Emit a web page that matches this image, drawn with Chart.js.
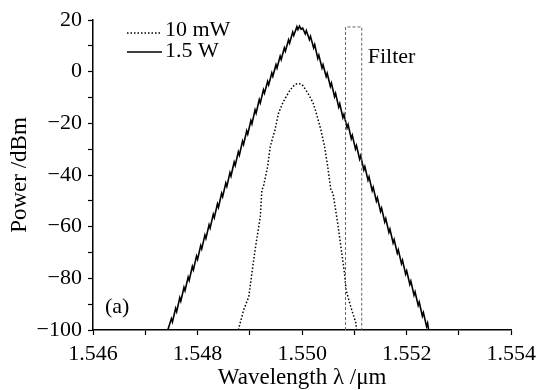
<!DOCTYPE html>
<html>
<head>
<meta charset="utf-8">
<script src="https://cdn.jsdelivr.net/npm/chart.js@4.4.1/dist/chart.umd.min.js"></script>
<style>
html, body { margin: 0; padding: 0; background: #fff; }
</style>
</head>
<body>
<canvas id="spectrum" width="542" height="390"></canvas>
<script>
// Axis setup
const xMin = 1.546, xMax = 1.554, xStep = 0.001;
const yMin = -100, yMax = 20, yStep = 10;

// 10 mW seed spectrum (dotted)
const lowX = [1.54878, 1.54888, 1.54898, 1.54904, 1.54910, 1.54920, 1.54923, 1.54926, 1.54934, 1.54939,
    1.54948, 1.54955, 1.54964, 1.54977, 1.54986, 1.54992, 1.55000, 1.55011, 1.55021, 1.55027,
    1.55036, 1.55043, 1.55049, 1.55055, 1.55059, 1.55068, 1.55075, 1.55081, 1.55084, 1.55093,
    1.55103, 1.55104];
const lowY = [-100, -92.3, -87.1, -77.9, -69.0, -56.1, -45.8, -44.5, -36.8, -29.0,
    -22.6, -16.0, -11.6, -7.1, -5.0, -4.5, -5.0, -8.3, -12.1, -16.0,
    -22.6, -29.0, -36.8, -45.8, -47.0, -58.6, -69.0, -77.9, -84.5, -91.0,
    -97.4, -100];

// 1.5 W amplified spectrum (solid, with its small ripple)
const highX = [1.54743,
    1.54750, 1.54752, 1.54758, 1.54760, 1.54766, 1.54768, 1.54774, 1.54776, 1.54782, 1.54784,
    1.54790, 1.54792, 1.54798, 1.54800, 1.54806, 1.54808, 1.54814, 1.54816, 1.54822, 1.54824,
    1.54830, 1.54832, 1.54838, 1.54840, 1.54846, 1.54848, 1.54854, 1.54856, 1.54862, 1.54864,
    1.54870, 1.54872, 1.54878, 1.54880, 1.54886, 1.54888, 1.54894, 1.54896, 1.54902, 1.54904,
    1.54910, 1.54912, 1.54918, 1.54920, 1.54926, 1.54928, 1.54934, 1.54936, 1.54942, 1.54944,
    1.54950, 1.54952, 1.54958, 1.54960, 1.54966, 1.54968, 1.54974, 1.54976, 1.54982, 1.54984,
    1.54990, 1.54992, 1.54995, 1.54998, 1.55001,
    1.55006, 1.55008, 1.55014, 1.55016, 1.55022, 1.55024, 1.55030, 1.55032, 1.55038, 1.55040,
    1.55046, 1.55048, 1.55054, 1.55056, 1.55062, 1.55064, 1.55070, 1.55072, 1.55078, 1.55080,
    1.55086, 1.55088, 1.55094, 1.55096, 1.55102, 1.55104, 1.55110, 1.55112, 1.55118, 1.55120,
    1.55126, 1.55128, 1.55134, 1.55136, 1.55142, 1.55144, 1.55150, 1.55152, 1.55158, 1.55160,
    1.55166, 1.55168, 1.55174, 1.55176, 1.55182, 1.55184, 1.55190, 1.55192, 1.55198, 1.55200,
    1.55206, 1.55208, 1.55214, 1.55216, 1.55222, 1.55224, 1.55230, 1.55232, 1.55238, 1.55240,
    1.55242];
const highY = [-100,
    -95.6, -96.9, -91.6, -92.9, -87.5, -88.8, -83.5, -84.8, -79.5, -80.8,
    -75.4, -76.7, -71.4, -72.7, -67.3, -68.6, -63.3, -64.6, -59.3, -60.6,
    -55.2, -56.5, -51.2, -52.5, -47.1, -48.4, -43.1, -44.4, -39.1, -40.4,
    -35.0, -36.3, -31.0, -32.3, -26.9, -28.2, -22.9, -24.2, -18.9, -20.2,
    -14.8, -16.1, -10.8, -12.1, -7.0, -8.3, -3.8, -5.1, -0.5, -1.8,
    2.7, 1.4, 6.0, 4.7, 9.2, 7.9, 12.3, 11.0, 15.3, 14.0,
    17.4, 16.3, 17.6, 16.4, 16.9,
    14.6, 15.9, 12.4, 13.7, 9.2, 10.5, 5.1, 6.4, 1.4, 2.7,
    -1.9, -0.6, -5.7, -4.4, -9.7, -8.4, -13.7, -12.4, -17.8, -16.5,
    -21.8, -20.5, -25.9, -24.6, -29.9, -28.6, -33.9, -32.6, -38.0, -36.7,
    -42.0, -40.7, -46.1, -44.8, -50.1, -48.8, -54.1, -52.8, -58.2, -56.9,
    -62.2, -60.9, -66.3, -65.0, -70.3, -69.0, -74.3, -73.0, -78.4, -77.1,
    -82.4, -81.1, -86.5, -85.2, -90.5, -89.2, -94.6, -93.3, -98.6, -97.3,
    -100];

// Filter pass band outline
const filterX = [1.55083, 1.55083, 1.55114, 1.55114];
const filterY = [-100, 17.3, 17.3, -100];

const legendLabels = ['10 mW', '1.5 W'];

const serif = '"Liberation Serif", "Times New Roman", serif';
Chart.defaults.font.family = serif;
Chart.defaults.color = '#000';

function toPoints(xs, ys) {
    return xs.map((x, i) => ({ x: x, y: ys[i] }));
}

// Legend, panel label and filter label drawn on top of the plot
const notesPlugin = {
    id: 'notes',
    afterDatasetsDraw(chart) {
        const ctx = chart.ctx;
        const sx = chart.scales.x, sy = chart.scales.y;
        ctx.save();
        ctx.font = '22px ' + serif;
        ctx.fillStyle = '#000';
        ctx.textBaseline = 'middle';
        ctx.textAlign = 'left';

        ctx.strokeStyle = '#000';
        ctx.lineWidth = 1.4;
        ctx.setLineDash([1.5, 2]);
        ctx.beginPath();
        ctx.moveTo(127, 33);
        ctx.lineTo(161, 33);
        ctx.stroke();
        ctx.setLineDash([]);
        ctx.lineWidth = 1.6;
        ctx.beginPath();
        ctx.moveTo(127, 52);
        ctx.lineTo(162, 52);
        ctx.stroke();
        ctx.fillText(legendLabels[0], 165, 30);
        ctx.fillText(legendLabels[1], 165, 51);

        ctx.fillText('(a)', 105, 307);
        ctx.fillText('Filter', sx.getPixelForValue(1.55114) + 6, sy.getPixelForValue(5.5));
        ctx.restore();
    }
};

const ctx = document.getElementById('spectrum').getContext('2d');
const spectrumChart = new Chart(ctx, {
    type: 'scatter',
    data: {
        datasets: [
            {
                label: 'Filter',
                data: toPoints(filterX, filterY),
                showLine: true,
                borderColor: '#666',
                borderWidth: 1,
                borderDash: [3, 2],
                pointRadius: 0,
                tension: 0
            },
            {
                label: legendLabels[0],
                data: toPoints(lowX, lowY),
                showLine: true,
                borderColor: '#000',
                borderWidth: 1.5,
                borderDash: [1.5, 2],
                pointRadius: 0,
                tension: 0
            },
            {
                label: legendLabels[1],
                data: toPoints(highX, highY),
                showLine: true,
                borderColor: '#000',
                borderWidth: 1.6,
                pointRadius: 0,
                tension: 0
            }
        ]
    },
    options: {
        responsive: false,
        animation: false,
        devicePixelRatio: 1,
        layout: { padding: { left: 0, top: 20, right: 27, bottom: 0 } },
        plugins: {
            legend: { display: false },
            tooltip: { enabled: false }
        },
        scales: {
            x: {
                type: 'linear',
                min: xMin,
                max: xMax,
                afterFit(scale) { scale.height = 60; },
                border: { display: true, color: '#000', width: 1.5 },
                grid: { drawOnChartArea: false, drawTicks: true, tickLength: 5, tickColor: '#000', tickWidth: 1.2 },
                ticks: {
                    stepSize: xStep,
                    autoSkip: false,
                    maxRotation: 0,
                    padding: 6,
                    font: { size: 22 },
                    callback: (value, index) => index % 2 === 0 ? Number(value).toFixed(3) : ''
                },
                title: {
                    display: true,
                    text: 'Wavelength \u03bb /\u03bcm',
                    font: { size: 23, lineHeight: 1 },
                    padding: { top: 0, bottom: 1 }
                }
            },
            y: {
                type: 'linear',
                min: yMin,
                max: yMax,
                afterFit(scale) { scale.width = 93; },
                border: { display: true, color: '#000', width: 1.5 },
                grid: { drawOnChartArea: false, drawTicks: true, tickLength: 5, tickColor: '#000', tickWidth: 1.2 },
                ticks: {
                    stepSize: yStep,
                    autoSkip: false,
                    padding: 6,
                    font: { size: 22 },
                    callback: value => value % 20 === 0 ? (value < 0 ? '\u2212' + Math.abs(value) : String(value)) : ''
                },
                title: {
                    display: true,
                    text: 'Power /dBm',
                    font: { size: 23, lineHeight: 1 },
                    padding: { top: 8, bottom: 0 }
                }
            }
        }
    },
    plugins: [notesPlugin]
});
</script>
</body>
</html>
